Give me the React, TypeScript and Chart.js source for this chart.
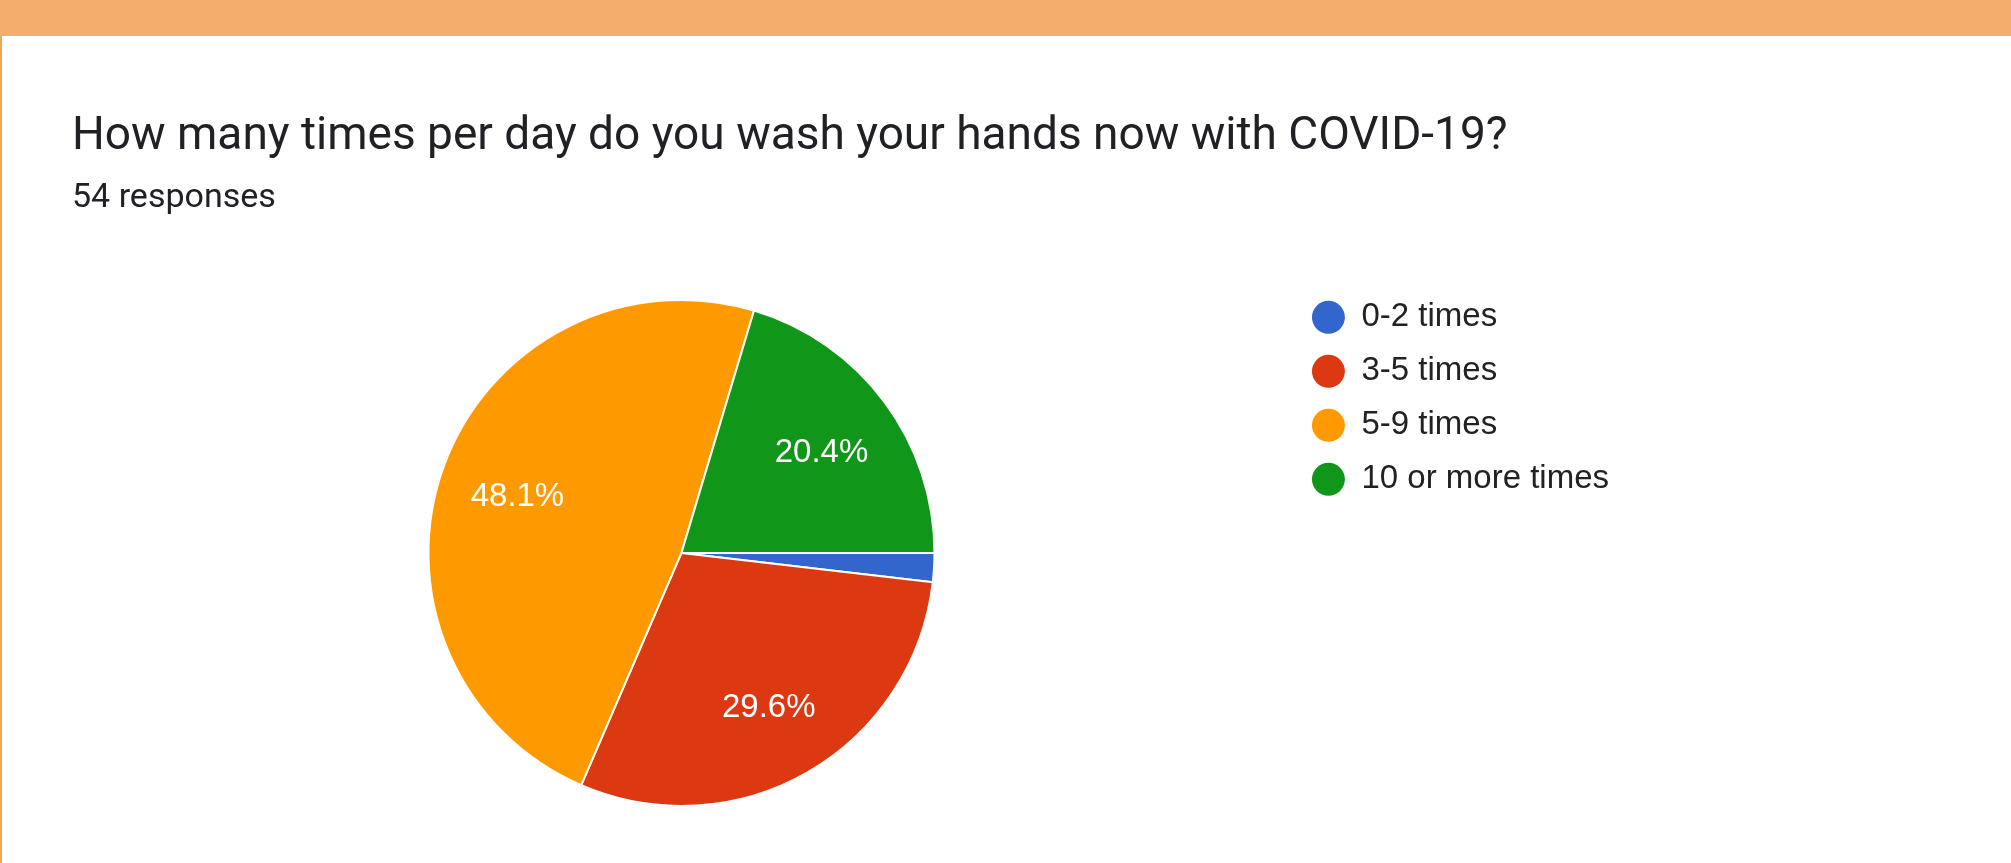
import { useEffect, useRef } from 'react';
import { Chart, registerables } from 'chart.js';

Chart.register(...registerables);

const categories = ['0-2 times', '3-5 times', '5-9 times', '10 or more times'];
const responses = [1, 16, 26, 11];
const sliceColors = ['#3366cc', '#dc3912', '#ff9900', '#109618'];
const titleText = 'How many times per day do you wash your hands now with COVID-19?';
const subtitleText = '54 responses';

const pctPlugin = {
  id: 'pctLabels',
  afterDatasetsDraw(chart: any) {
    const meta = chart.getDatasetMeta(0);
    const data = chart.data.datasets[0].data as number[];
    const total = data.reduce((a, b) => a + b, 0);
    const ctx = chart.ctx;
    ctx.save();
    ctx.font = '33px "Liberation Sans", Arial, sans-serif';
    ctx.fillStyle = '#ffffff';
    ctx.textAlign = 'center';
    ctx.textBaseline = 'middle';
    meta.data.forEach((arc: any, i: number) => {
      const pct = (data[i] / total) * 100;
      if (pct < 5) return;
      const { x, y, startAngle, endAngle, outerRadius } = arc.getProps(
        ['x', 'y', 'startAngle', 'endAngle', 'outerRadius'],
        true
      );
      const mid = (startAngle + endAngle) / 2;
      const r = outerRadius * 0.69;
      ctx.fillText(pct.toFixed(1) + '%', x + Math.cos(mid) * r, y + Math.sin(mid) * r + 4);
    });
    ctx.restore();
  },
};

export default function App() {
  const ref = useRef<HTMLCanvasElement | null>(null);

  useEffect(() => {
    if (!ref.current) return;
    const chart = new Chart(ref.current, {
      type: 'pie',
      data: {
        labels: categories,
        datasets: [
          {
            data: responses,
            backgroundColor: sliceColors,
            borderColor: '#ffffff',
            borderWidth: 2,
          },
        ],
      },
      options: {
        responsive: false,
        animation: false,
        devicePixelRatio: 1,
        rotation: 90,
        radius: 253,
        layout: { padding: { left: 72, right: 392, top: 0, bottom: 37 } },
        plugins: {
          tooltip: { enabled: false },
          title: {
            display: true,
            text: titleText,
            align: 'start',
            color: '#202124',
            font: { family: 'Roboto, "Noto Sans", sans-serif', size: 46, weight: 'normal', lineHeight: 1.2 },
            padding: { top: 74, bottom: 0 },
          },
          subtitle: {
            display: true,
            text: subtitleText,
            align: 'start',
            color: '#202124',
            font: { family: 'Roboto, "Noto Sans", sans-serif', size: 34, weight: 'normal', lineHeight: 1.2 },
            padding: { top: 12.4, bottom: 61.4 },
          },
          legend: {
            position: 'right',
            align: 'start',
            fullSize: false,
            labels: {
              color: '#222222',
              font: { family: '"Liberation Sans", Arial, sans-serif', size: 33 },
              boxWidth: 33,
              boxHeight: 33,
              padding: 21,
              useBorderRadius: true,
              borderRadius: 16.5,
              generateLabels: (c: any) =>
                (c.data.labels as string[]).map((text: string, i: number) => ({
                  text,
                  fillStyle: sliceColors[i],
                  strokeStyle: sliceColors[i],
                  lineWidth: 0,
                  hidden: false,
                  index: i,
                  borderRadius: 16.5,
                  fontColor: '#222222',
                })),
            },
          },
        },
      } as any,
      plugins: [pctPlugin],
    });
    return () => chart.destroy();
  }, []);

  return (
    <div
      style={{
        position: 'absolute',
        left: 0,
        top: 0,
        width: 2011,
        height: 863,
        background: '#ffffff',
        overflow: 'hidden',
      }}
    >
      <div style={{ position: 'absolute', left: 0, top: 0, width: 2011, height: 36, background: '#f3ae6d' }} />
      <div style={{ position: 'absolute', left: 0, top: 36, width: 2, height: 827, background: '#f1a556' }} />
      <canvas
        ref={ref}
        width={2011}
        height={827}
        style={{ position: 'absolute', left: 0, top: 36, width: 2011, height: 827, display: 'block' }}
      />
    </div>
  );
}
